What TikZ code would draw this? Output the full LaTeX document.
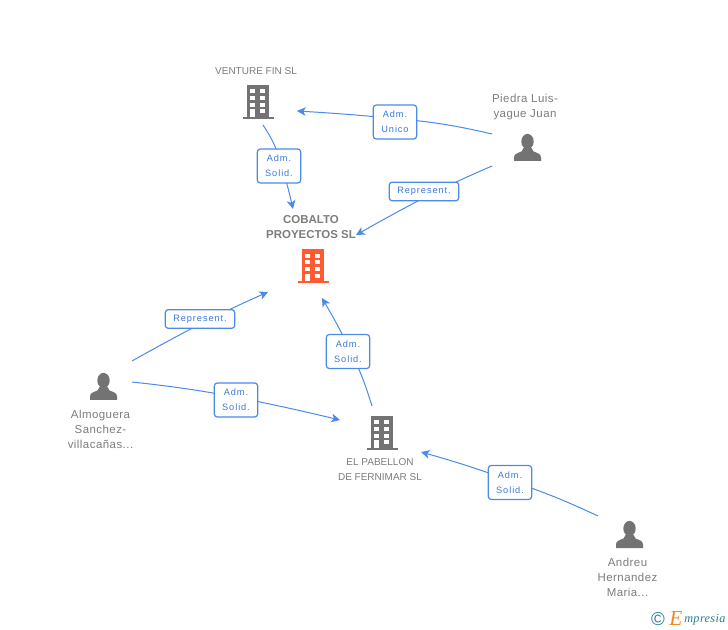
\documentclass[tikz,border=0pt]{standalone}
\usepackage{fontspec}
\setmainfont{Liberation Sans}
\newfontfamily\tagfont[LetterSpace=10]{Liberation Sans}
\newfontfamily\namefont[LetterSpace=4]{Liberation Sans}
\newfontfamily\logofont[LetterSpace=3]{Liberation Serif}
\usetikzlibrary{positioning,shapes,arrows.meta}
\pgfdeclarelayer{bg}
\pgfsetlayers{bg,main}
\definecolor{linkblue}{HTML}{4A8BE8}
\definecolor{tagblue}{HTML}{3A78D8}
\definecolor{icongray}{HTML}{737373}
\definecolor{textgray}{HTML}{7C7C7C}
\definecolor{mainred}{HTML}{FF5A32}
\definecolor{logoteal}{HTML}{2A7F95}
\definecolor{logoorange}{HTML}{F08A1E}
\tikzset{
tagbox/.style={draw=linkblue, line width=0.9pt, rounded corners=2.2pt, fill=white, text=tagblue, inner sep=0pt, align=center, font=\tagfont\fontsize{6.9}{11.2}\selectfont},
adm/.style={tagbox, minimum width=32.5pt, minimum height=25.5pt},
rep/.style={tagbox, minimum width=52pt, minimum height=14pt},
firmname/.style={text=textgray, align=center, inner sep=0pt, font=\fontsize{7.5}{11.25}\selectfont},
mainname/.style={firmname, font=\bfseries\fontsize{8.6}{11.25}\selectfont},
personname/.style={firmname, font=\namefont\fontsize{8.6}{11.25}\selectfont},
linkline/.style={linkblue, line width=0.75pt},
linktip/.style={linkline, -{Stealth[length=6.5pt,width=6.5pt,inset=1.8pt]}},
icon/.style={inner sep=0pt, minimum size=0pt},
pics/building/.style={code={
	\fill[#1] (-11,0) rectangle (11,-32);
	\fill[#1] (-15.5,-32) rectangle (15.5,-33.6);
	\foreach \row in {4.3,11,17.7} {
		\fill[white] (-7.7,-\row) rectangle (-3.3,-\row-4);
		\fill[white] (2.3,-\row) rectangle (6.7,-\row-4);
	}
	\fill[white] (-7.7,-24.3) rectangle (-3.3,-32);
	\fill[white] (2.3,-24.3) rectangle (6.7,-28.3);
}},
pics/person/.style={code={
	\fill[icongray] (0,19.5) ellipse (6.2 and 7.6);
	\fill[icongray] (-13.5,0) -- (-13.5,3.5) .. controls (-13.5,7) and (-10,8) .. (-6,9.5) -- (-4,13) -- (4,13) -- (6,9.5) .. controls (10,8) and (13.5,7) .. (13.5,3.5) -- (13.5,0) -- cycle;
}},
}
\begin{document}
\begin{tikzpicture}[x=0.75pt, y=0.75pt]
\useasboundingbox (0,0) rectangle (728,-630);

% icons
\node[icon] (venture) at (258,-85) {};
\node[icon] (cobalto) at (313,-249.5) {};
\node[icon] (pabellon) at (382,-416) {};
\node[icon] (piedra) at (527.5,-161) {};
\node[icon] (almoguera) at (103.5,-400) {};
\node[icon] (andreu) at (629.5,-548) {};
\pic at (venture) {building=icongray};
\pic at (cobalto) {building=mainred};
\pic at (pabellon) {building=icongray};
\pic at (piedra) {person};
\pic at (almoguera) {person};
\pic at (andreu) {person};

% names
\node[firmname] (venturename) at (256,-71) {VENTURE FIN SL};
\node[mainname] (cobaltoname) at (311,-227) {COBALTO\\PROYECTOS SL};
\node[firmname] (pabellonname) at (380,-469.5) {EL PABELLON\\DE FERNIMAR SL};
\node[personname] (piedraname) at (525,-107) {Piedra Luis-\\yague Juan};
\node[personname] (almogueraname) at (100.5,-429) {Almoguera\\Sanchez-\\villaca\~nas...};
\node[personname] (andreuname) at (627.5,-577) {Andreu\\Hernandez\\Maria...};

% tags
\node[adm] (tagventure) at (279,-166) {Adm.\\Solid.};
\node[adm] (tagunico) at (395,-122) {Adm.\\Unico};
\node[rep] (tagpiedra) at (424,-191.5) {Represent.};
\node[rep] (tagalmoguera) at (200,-319) {Represent.};
\node[adm] (tagsolid) at (236,-400) {Adm.\\Solid.};
\node[adm] (tagpabellon) at (348,-351.5) {Adm.\\Solid.};
\node[adm] (tagandreu) at (510,-482.5) {Adm.\\Solid.};

% free ends
\coordinate (s1) at (263,-125);
\coordinate (e1) at (293,-209);
\coordinate (s2) at (492,-134);
\coordinate (e2) at (297,-111);
\coordinate (s3) at (492,-166);
\coordinate (e3) at (356,-235);
\coordinate (s4) at (132,-361);
\coordinate (e4) at (268,-292);
\coordinate (s5) at (132,-382);
\coordinate (e5) at (340,-420);
\coordinate (s6) at (372,-406);
\coordinate (e6) at (322,-298);
\coordinate (s7) at (598,-516);
\coordinate (e7) at (421,-452);

\begin{pgfonlayer}{bg}
	\draw[linkline] (s1) to[bend left=9] ([xshift=2pt]tagventure.center);
	\draw[linktip] ([xshift=2pt]tagventure.center) to[bend left=2] (e1);
	\draw[linkline] (s2) to[bend right=4] ([yshift=2.6pt]tagunico.center);
	\draw[linktip] ([yshift=2.6pt]tagunico.center) to[bend right=1] (e2);
	\draw[linkline] (s3) to[bend right=1] ([xshift=9pt]tagpiedra.center);
	\draw[linktip] ([xshift=9pt]tagpiedra.center) to[bend right=1] (e3);
	\draw[linkline] (s4) to[bend left=1] ([xshift=7.5pt]tagalmoguera.center);
	\draw[linktip] ([xshift=7.5pt]tagalmoguera.center) to[bend left=1] (e4);
	\draw[linkline] (s5) to[bend left=2] ([yshift=2.2pt]tagsolid.center);
	\draw[linktip] ([yshift=2.2pt]tagsolid.center) to[bend left=1] (e5);
	\draw[linkline] (s6) to[bend right=4] ([xshift=2.2pt]tagpabellon.center);
	\draw[linktip] ([xshift=2.2pt]tagpabellon.center) to[bend right=2] (e6);
	\draw[linkline] (s7) to[bend right=3] ([yshift=1.5pt]tagandreu.center);
	\draw[linktip] ([yshift=1.5pt]tagandreu.center) to[bend right=2] (e7);
\end{pgfonlayer}

% logo
\node[inner sep=0pt, text=logoteal, font=\fontsize{14}{14}\selectfont] (logoc) at (658,-619) {\textcopyright};
\node[inner sep=0pt, text=logoorange, font=\logofont\itshape\fontsize{16}{16}\selectfont, anchor=base west] (logoe) at (669,-625) {E};
\node[inner sep=0pt, text=logoteal, font=\logofont\itshape\fontsize{9.2}{9.2}\selectfont, anchor=base west] (logotxt) at (684,-622) {mpresia};
\end{tikzpicture}
\end{document}
